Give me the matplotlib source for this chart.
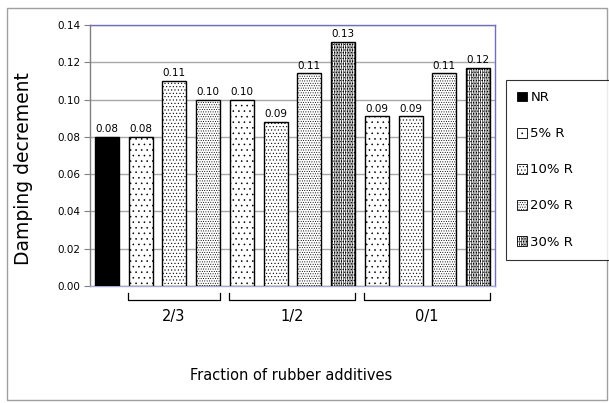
import numpy as np
import matplotlib
matplotlib.use('Agg')
import matplotlib.pyplot as plt
from matplotlib.patches import Patch, Rectangle

# data
bar_labels = ['NR', '5% R', '10% R', '20% R',
              '5% R', '10% R', '20% R', '30% R',
              '5% R', '10% R', '20% R', '30% R']
values = [0.080, 0.080, 0.110, 0.100,
          0.100, 0.088, 0.114, 0.131,
          0.091, 0.091, 0.114, 0.117]
value_text = ['0.08', '0.08', '0.11', '0.10',
              '0.10', '0.09', '0.11', '0.13',
              '0.09', '0.09', '0.11', '0.12']
groups = ['2/3', '1/2', '0/1']
group_span = [(1, 4), (4, 8), (8, 12)]
legend_names = ['NR', '5% R', '10% R', '20% R', '30% R']

# look of each series
face = {'NR': 'black', '5% R': 'white', '10% R': 'white', '20% R': 'white', '30% R': 'white'}
hatch = {'NR': None, '5% R': '...', '10% R': '.....', '20% R': '.' * 7,
         '30% R': '|' * 9 + '.' * 6}

plt.rcParams['hatch.linewidth'] = 0.4
plt.rcParams['font.family'] = 'DejaVu Sans'

fig = plt.figure(figsize=(6.09, 4.03), dpi=100)
ax = fig.add_axes([90/609, 1-286/403, 405/609, 261/403])

x = np.arange(len(values)) + 0.5
for xi, v, lab, t in zip(x, values, bar_labels, value_text):
    ax.bar(xi, v, width=0.71, color=face[lab], edgecolor='black',
           hatch=hatch[lab], linewidth=1.0, zorder=3)
    ax.text(xi, v + 0.0015, t, ha='center', va='bottom', fontsize=7.5, zorder=4)

ax.set_xlim(0, 12)
ax.set_ylim(0, 0.14)
ax.set_yticks(np.arange(0, 0.141, 0.02))
ax.set_yticklabels(['%.2f' % t for t in np.arange(0, 0.141, 0.02)], fontsize=7.5)
ax.set_xticks([])
ax.tick_params(axis='y', length=4, width=0.8, color='#808080', pad=3)
ax.grid(axis='y', color='#a8a8a8', linewidth=1.0, zorder=0)
ax.spines['top'].set_color('#7070b8')
ax.spines['right'].set_color('#7070b8')
ax.spines['bottom'].set_color('#a8a8d0')
ax.spines['left'].set_color('#808080')
for s in ax.spines.values():
    s.set_linewidth(1.0)

# group brackets below the axis
for g, (a, b) in zip(groups, group_span):
    x0, x1 = a + 0.13, b - 0.15
    ax.plot([x0, x0, x1, x1], [-0.0038, -0.0075, -0.0075, -0.0038],
            color='black', linewidth=0.9, clip_on=False)
    ax.text((x0 + x1) / 2, -0.0165, g, ha='center', va='center', fontsize=10.5)

ax.set_ylabel('Damping decrement', fontsize=13.5)
ax.yaxis.set_label_coords(-0.14, 0.45)
fig.text(291/609, 1-375/403, 'Fraction of rubber additives', ha='center',
         va='center', fontsize=10.5)

# legend
handles = [Patch(facecolor=face[n], edgecolor='black', hatch=hatch[n], linewidth=0.6)
           for n in legend_names]
leg = fig.legend(handles, legend_names, loc='upper left',
                 bbox_to_anchor=(506/609, 1-80/403, 110/609, 0), mode='expand',
                 fontsize=9.5, frameon=True,
                 fancybox=False, edgecolor='black', handlelength=0.75,
                 handleheight=0.75, handletextpad=0.25, labelspacing=1.75,
                 borderpad=0.85, borderaxespad=0)
leg.get_frame().set_linewidth(0.8)

# outer chart frame
fig.patches.append(Rectangle((7/609, 3/403), 600/609, 392/403, transform=fig.transFigure,
                             fill=False, edgecolor='#a0a0a0', linewidth=1.0))

fig.savefig('out.png', dpi=100)
